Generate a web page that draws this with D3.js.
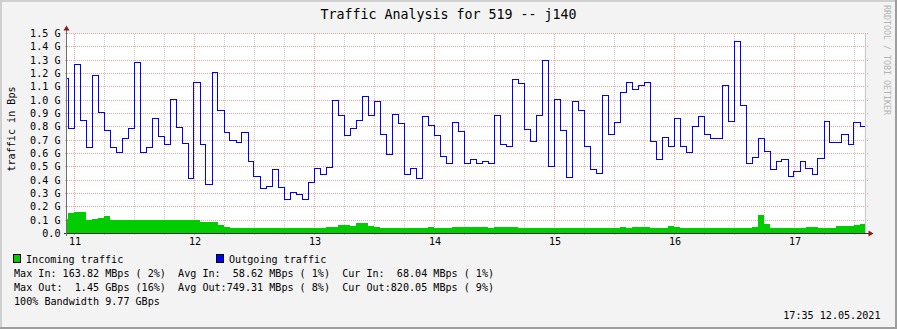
<!DOCTYPE html>
<html>
<head>
<meta charset="utf-8">
<script src="https://cdn.jsdelivr.net/npm/d3@7"></script>
<style>
  body { margin: 0; background: #f3f3f3; }
  svg { display: block; }
  text { font-family: "DejaVu Sans Mono", monospace; white-space: pre; }
</style>
</head>
<body>
<svg></svg>
<script>
// traffic in GBps, one sample every 3 minutes
const incoming = [
  0.1075, 0.1525, 0.16, 0.16, 0.10, 0.1075, 0.115, 0.13, 0.10, 0.10,
  0.10, 0.10, 0.10, 0.10, 0.10, 0.10, 0.10, 0.10, 0.10, 0.10,
  0.10, 0.10, 0.10, 0.085, 0.085, 0.085, 0.0625, 0.0475, 0.04, 0.04,
  0.04, 0.04, 0.04, 0.04, 0.04, 0.04, 0.04, 0.04, 0.04, 0.04,
  0.04, 0.04, 0.04, 0.04, 0.0475, 0.0475, 0.0625, 0.0625, 0.055, 0.0775,
  0.0775, 0.055, 0.0475, 0.04, 0.04, 0.04, 0.04, 0.04, 0.04, 0.04,
  0.04, 0.0475, 0.04, 0.04, 0.04, 0.0475, 0.0475, 0.0475, 0.0475, 0.0475,
  0.0475, 0.04, 0.0475, 0.0475, 0.0475, 0.0475, 0.04, 0.04, 0.04, 0.04,
  0.04, 0.04, 0.04, 0.04, 0.04, 0.04, 0.04, 0.04, 0.04, 0.04,
  0.04, 0.04, 0.04, 0.0475, 0.04, 0.0475, 0.0475, 0.0475, 0.04, 0.04,
  0.04, 0.055, 0.0475, 0.04, 0.04, 0.04, 0.04, 0.04, 0.04, 0.04,
  0.04, 0.04, 0.04, 0.04, 0.04, 0.0475, 0.1375, 0.07, 0.04, 0.04,
  0.04, 0.04, 0.04, 0.04, 0.0475, 0.0475, 0.04, 0.04, 0.04, 0.055,
  0.055, 0.055, 0.0625, 0.07
];
const outgoing = [
  1.17, 0.79, 1.275, 0.855, 0.65, 1.19, 0.91, 0.78, 0.65, 0.615,
  0.72, 0.79, 1.29, 0.615, 0.65, 0.87, 0.735, 0.67, 1.01, 0.80,
  0.68, 0.42, 1.14, 0.675, 0.37, 1.21, 0.93, 0.765, 0.70, 0.69,
  0.765, 0.54, 0.435, 0.34, 0.36, 0.48, 0.35, 0.26, 0.315, 0.30,
  0.255, 0.39, 0.495, 0.45, 0.50, 1.005, 0.89, 0.74, 0.795, 0.85,
  1.03, 0.89, 0.99, 0.75, 0.60, 0.90, 0.83, 0.45, 0.495, 0.42,
  0.885, 0.815, 0.74, 0.585, 0.525, 0.84, 0.77, 0.53, 0.5625, 0.5325,
  0.5475, 0.525, 0.89, 0.6675, 0.66, 1.1625, 1.1325, 0.7875, 0.6975, 0.8925,
  1.305, 0.51, 1.0125, 0.78, 0.4275, 0.99, 0.93, 0.6525, 0.4875, 0.4575,
  1.0425, 0.7425, 0.84, 1.0575, 1.14, 1.08, 1.11, 1.14, 0.6975, 0.5625,
  0.7275, 0.6525, 0.8625, 0.66, 0.615, 0.81, 0.885, 0.75, 0.7125, 0.72,
  1.1175, 0.8475, 1.4475, 0.9675, 0.525, 0.5775, 0.7125, 0.6225, 0.48, 0.5475,
  0.555, 0.435, 0.4725, 0.5475, 0.495, 0.45, 0.57, 0.8475, 0.6825, 0.6825,
  0.75, 0.675, 0.8325, 0.8025
];
const yTicks = [0, 0.1, 0.2, 0.3, 0.4, 0.5, 0.6, 0.7, 0.8, 0.9, 1.0, 1.1, 1.2, 1.3, 1.4, 1.5];
const yTickLabels = ["0.0", "0.1 G", "0.2 G", "0.3 G", "0.4 G", "0.5 G", "0.6 G", "0.7 G",
  "0.8 G", "0.9 G", "1.0 G", "1.1 G", "1.2 G", "1.3 G", "1.4 G", "1.5 G"];
const hourLabels = ["11", "12", "13", "14", "15", "16", "17"];
const seriesNames = ["Incoming traffic", "Outgoing traffic"];
const seriesColors = ["#00CC00", "#0000FF"];
const statLines = [
  "Max In: 163.82 MBps ( 2%)  Avg In:  58.62 MBps ( 1%)  Cur In:  68.04 MBps ( 1%)",
  "Max Out:  1.45 GBps (16%)  Avg Out:749.31 MBps ( 8%)  Cur Out:820.05 MBps ( 9%)",
  "100% Bandwidth 9.77 GBps"
];

let width = 897, height = 329;
let pLeft = 66.5, pRight = 864.5, pTop = 33.5, pBottom = 233.5;

let svg = d3.select("svg")
    .attr("width", width)
    .attr("height", height);

// canvas with 3d border
svg.append("rect").attr("width", width).attr("height", height).attr("fill", "#f3f3f3");
svg.append("path").attr("d", `M0,${height} V0 H${width}`).attr("fill", "none")
    .attr("stroke", "#cfcfcf").attr("stroke-width", 4);
svg.append("path").attr("d", `M0,${height} H${width} V0`).attr("fill", "none")
    .attr("stroke", "#9e9e9e").attr("stroke-width", 4);

svg.append("rect")
    .attr("x", pLeft).attr("y", pTop)
    .attr("width", pRight - pLeft).attr("height", pBottom - pTop)
    .attr("fill", "white");

let day = (h, m, s) => new Date(2021, 4, 12, h, m, s || 0);
let x = d3.scaleTime().domain([day(10, 56), day(17, 35)]).range([pLeft, pRight]);
let y = d3.scaleLinear().domain([0, 1.5]).range([pBottom, pTop]);

let sampleStart = day(10, 53, 30);
let stepMs = 3 * 60 * 1000;
let timeAt = i => new Date(sampleStart.getTime() + i * stepMs);

let grid = svg.append("g").attr("shape-rendering", "crispEdges");

// minor vertical grid every 15 minutes
grid.selectAll("line.minor")
    .data(d3.timeMinute.every(15).range(x.domain()[0], x.domain()[1]).filter(d => d.getMinutes() != 0))
    .join("line")
    .attr("x1", d => Math.floor(x(d)) + 0.5).attr("x2", d => Math.floor(x(d)) + 0.5)
    .attr("y1", pTop).attr("y2", pBottom + 2)
    .attr("stroke", "rgba(140,140,140,0.45)")
    .attr("stroke-dasharray", "1,1");

// major grid: hours and every 0.1 G
let hours = d3.timeHour.every(1).range(x.domain()[0], x.domain()[1]);
grid.selectAll("line.hour")
    .data(hours)
    .join("line")
    .attr("x1", d => Math.floor(x(d)) + 0.5).attr("x2", d => Math.floor(x(d)) + 0.5)
    .attr("y1", pTop).attr("y2", pBottom + 2)
    .attr("stroke", "rgba(200,40,40,0.4)")
    .attr("stroke-dasharray", "1,1");

grid.selectAll("line.h")
    .data(yTicks.slice(1))
    .join("line")
    .attr("x1", pLeft - 2).attr("x2", pRight + 3)
    .attr("y1", d => Math.floor(y(d)) + 0.5).attr("y2", d => Math.floor(y(d)) + 0.5)
    .attr("stroke", "rgba(200,40,40,0.4)")
    .attr("stroke-dasharray", "1,1");

// data
svg.append("clipPath").attr("id", "plot")
    .append("rect").attr("x", pLeft).attr("y", 0).attr("width", pRight - pLeft + 1).attr("height", pBottom + 1);

let inPts = incoming.map((v, i) => [timeAt(i), v]);
inPts.push([timeAt(incoming.length), incoming[incoming.length - 1]]);
let outPts = outgoing.map((v, i) => [timeAt(i), v]);
outPts.push([timeAt(outgoing.length), outgoing[outgoing.length - 1]]);

let area = d3.area()
    .x(d => x(d[0]))
    .y0(y(0))
    .y1(d => y(d[1]))
    .curve(d3.curveStepAfter);

let line = d3.line()
    .x(d => Math.round(x(d[0])) + 0.5)
    .y(d => Math.round(y(d[1])) + 0.5)
    .curve(d3.curveStepAfter);

let data = svg.append("g").attr("clip-path", "url(#plot)");
data.append("path")
    .attr("d", area(inPts))
    .attr("fill", seriesColors[0])
    .attr("shape-rendering", "crispEdges");
data.append("path")
    .attr("d", line(outPts))
    .attr("fill", "none")
    .attr("stroke", seriesColors[1])
    .attr("stroke-width", 1.2)
    .attr("shape-rendering", "crispEdges");

// right frame of the plot
svg.append("line")
    .attr("x1", pRight + 1).attr("x2", pRight + 1)
    .attr("y1", pTop).attr("y2", pBottom)
    .attr("stroke", "#c8c8c8")
    .attr("shape-rendering", "crispEdges");

// axes
svg.append("line")
    .attr("x1", pLeft - 3).attr("x2", pRight + 5)
    .attr("y1", pBottom).attr("y2", pBottom)
    .attr("stroke", "#303030")
    .attr("shape-rendering", "crispEdges");
svg.append("line")
    .attr("x1", pLeft).attr("x2", pLeft)
    .attr("y1", pBottom + 2).attr("y2", pTop - 4)
    .attr("stroke", "#707070")
    .attr("shape-rendering", "crispEdges");
svg.append("path")
    .attr("d", `M${pLeft - 3},${pTop - 3} L${pLeft + 3},${pTop - 3} L${pLeft},${pTop - 8} Z`)
    .attr("fill", "#8b1a1a");
svg.append("path")
    .attr("d", `M${pRight + 4},${pBottom - 3} L${pRight + 4},${pBottom + 3} L${pRight + 9},${pBottom} Z`)
    .attr("fill", "#8b1a1a");

// tick labels
svg.append("g").selectAll("text")
    .data(yTicks)
    .join("text")
    .attr("x", 60.5)
    .attr("y", d => y(d) + 3.6)
    .attr("text-anchor", "end")
    .attr("font-size", "10.1px")
    .attr("fill", "#000")
    .text((d, i) => yTickLabels[i]);

svg.append("g").selectAll("text")
    .data(hours)
    .join("text")
    .attr("x", d => x(d) + 0.5)
    .attr("y", 245)
    .attr("text-anchor", "middle")
    .attr("font-size", "10.1px")
    .attr("fill", "#000")
    .text((d, i) => hourLabels[i]);

// titles
svg.append("text")
    .attr("x", 448.5).attr("y", 18.5)
    .attr("text-anchor", "middle")
    .attr("font-size", "13.3px")
    .attr("fill", "#000")
    .text("Traffic Analysis for 519 -- j140");

svg.append("text")
    .attr("transform", "translate(15,129) rotate(-90)")
    .attr("text-anchor", "middle")
    .attr("font-size", "10.1px")
    .attr("fill", "#000")
    .text("traffic in Bps");

svg.append("text")
    .attr("transform", "translate(884,5) rotate(90)")
    .attr("text-anchor", "start")
    .attr("font-size", "8.3px")
    .attr("fill", "#b4b4b4")
    .text("RRDTOOL / TOBI OETIKER");

// legend
let legend = svg.append("g").attr("font-size", "10.1px");
let boxX = [13.5, 216.5];
seriesNames.forEach((name, i) => {
    legend.append("rect")
        .attr("x", boxX[i]).attr("y", 254.5)
        .attr("width", 7).attr("height", 8)
        .attr("fill", seriesColors[i])
        .attr("stroke", "#000")
        .attr("shape-rendering", "crispEdges");
    legend.append("text")
        .attr("x", boxX[i] + 12.5).attr("y", 263)
        .attr("fill", "#000")
        .text(name);
});
legend.selectAll("text.stat")
    .data(statLines)
    .join("text")
    .attr("class", "stat")
    .attr("x", 14)
    .attr("y", (d, i) => 277 + i * 14)
    .attr("fill", "#000")
    .text(d => d);

legend.append("text")
    .attr("x", 880.5).attr("y", 319)
    .attr("text-anchor", "end")
    .attr("fill", "#000")
    .text("17:35 12.05.2021");
</script>
</body>
</html>
